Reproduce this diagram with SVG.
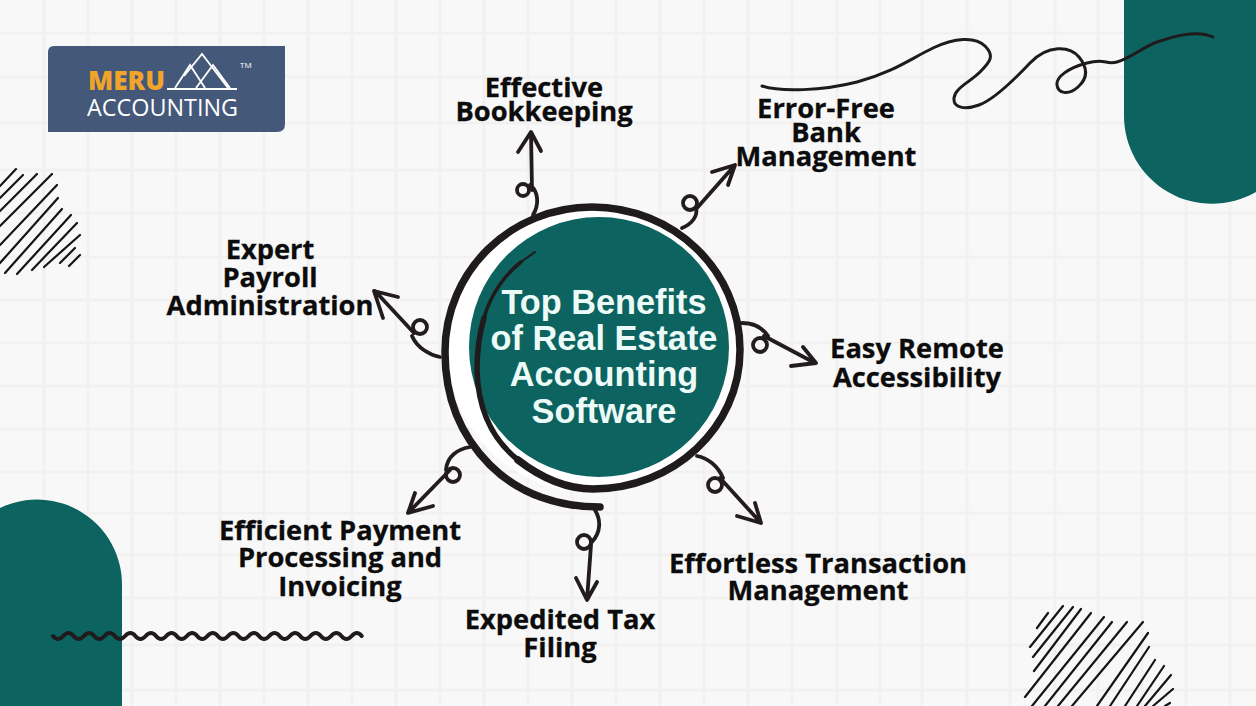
<svg xmlns="http://www.w3.org/2000/svg" width="1256" height="706" viewBox="0 0 1256 706">
<style>
.grid{fill:none;stroke:#f2f1f1;stroke-width:3}
.teal{fill:#0d6360}
.ink{fill:none;stroke:#1f1a1b;stroke-linecap:round;stroke-linejoin:round}
.hatch{fill:none;stroke:#151515;stroke-width:2.2;stroke-linecap:round}
.conn{fill:none;stroke:#231c1e;stroke-width:3.800;stroke-linecap:round;stroke-linejoin:round}
.label{font-family:"Open Sans","Noto Sans",sans-serif;font-weight:700;font-size:27.300px;fill:#0c0c0c;stroke:#0c0c0c;stroke-width:.3;text-anchor:middle}
.title{font-family:"Liberation Sans",Arial,sans-serif;font-weight:700;font-size:34.300px;fill:#ecfbf8;text-anchor:middle}
</style>
<rect width="1256" height="706" fill="#f8f8f8"/>
<path class="grid" d="M44 0V706M88 0V706M132 0V706M176 0V706M220 0V706M264 0V706M308 0V706M352 0V706M396 0V706M440 0V706M484 0V706M528 0V706M572 0V706M616 0V706M660 0V706M704 0V706M748 0V706M792 0V706M837 0V706M880 0V706M922 0V706M967 0V706M1010 0V706M1055 0V706M1098 0V706M1142 0V706M1186 0V706M1230 0V706M0 33H1256M0 77H1256M0 123H1256M0 170H1256M0 213H1256M0 257H1256M0 300H1256M0 343H1256M0 386H1256M0 429H1256M0 472H1256M0 513H1256M0 555H1256M0 598H1256M0 645H1256M0 690H1256"/>
<path class="teal" d="M1124 0V116A88 88 0 0 0 1256 192V0Z"/>
<path class="teal" d="M0 706V508A85 85 0 0 1 122 585V706Z"/>
<path class="ink" stroke-width="3" d="M762 86C780 92 822 91 857 82S912 58 933 48S975 36 985 46S990 62 980 72S955 88 954 98S965 110 979 105S1012 82 1030 63S1070 46 1079 57S1088 78 1078 87S1058 93 1057 85S1068 68 1087 63S1105 65 1117 62S1145 46 1157 42S1195 29 1213 37"/>
<path class="ink" stroke-width="4" d="M53 636q5 6 10.300 0t10.300 0t10.300 0t10.300 0t10.300 0t10.300 0t10.300 0t10.300 0t10.300 0t10.300 0t10.300 0t10.300 0t10.300 0t10.300 0t10.300 0t10.300 0t10.300 0t10.300 0t10.300 0t10.300 0t10.300 0t10.300 0t10.300 0t10.300 0t10.300 0t10.300 0t10.300 0t10.300 0t10.300 0t10 0"/>
<path class="hatch" d="M0 186L16 169M0 198L23 175M0 211L37 174M0 226L52 174M0 245L57 185M0 263L58 198M5 273L62 209M17 274L71 215M32 270L77 223M44 267L80 235M60 263L75 248M69 266L80 255"/>
<path class="hatch" d="M1037 628L1048 613M1030 647L1063 606M1033 657L1073 607M1034 671L1081 609M1025 697L1091 613M1032 706L1104 617M1045 706L1112 622M1058 706L1127 622M1072 706L1143 622M1097 706L1148 633M1110 706L1149 647M1125 706L1155 660M1137 706L1164 666M1145 706L1171 675M1153 706L1173 689M1165 706L1170 703"/>
<g id="logo">
<path d="M54 46H285V124Q285 132 277 132H48V52Q48 46 54 46Z" fill="#44597a"/>
<text x="88" y="90" font-family="'Open Sans',sans-serif" font-weight="800" font-size="26" fill="#f0a52a" textLength="77" lengthAdjust="spacingAndGlyphs">MERU</text>
<text x="87" y="116" font-family="'Open Sans',sans-serif" font-weight="400" font-size="23" fill="#ffffff" textLength="151" lengthAdjust="spacingAndGlyphs">ACCOUNTING</text>
<text x="240" y="68" font-family="'Open Sans',sans-serif" font-size="8" fill="#ffffff">TM</text>
<path d="M167 89H237M175 88L190 65L205 88M184 76L202 54L228 88M196 88L213 65L230 88" fill="none" stroke="#fff" stroke-width="1.800"/>
</g>
<g id="connectors">
<path class="conn" d="M533 215C539 205 539 192 530 185M532 190L531 133M518 152L531 132L541 151"/><circle class="conn" cx="523" cy="190" r="6"/>
<path class="conn" d="M682 228C692 224 698 216 696 208M697 208L735 165M712 172L735 165L728 185"/><circle class="conn" cx="690" cy="203" r="7"/>
<path class="conn" d="M742 323C752 323 762 327 768 336M764 336L815 363M803 347L816 363L791 366"/><circle class="conn" cx="760" cy="345" r="7"/>
<path class="conn" d="M697 456C708 458 718 466 723 478M720 478L761 523M755 503L761 523L737 516"/><circle class="conn" cx="715" cy="485" r="7"/>
<path class="conn" d="M595 510C601 520 601 532 592 542M591 545L587 600M576 578L587 600L597 582"/><circle class="conn" cx="584" cy="542" r="7"/>
<path class="conn" d="M470 447C458 449 447 456 446 470M450 470L408 513M415 493L408 513L433 506"/><circle class="conn" cx="453" cy="475" r="7"/>
<path class="conn" d="M440 357C430 355 417 348 412 336M414 333L375 291M398 297L374 291L383 318"/><circle class="conn" cx="420" cy="327" r="7"/>
</g>
<g id="center">
<circle cx="592" cy="348" r="145" fill="#ffffff"/>
<circle class="teal" cx="599" cy="347" r="130"/>
<path class="ink" stroke-width="7.500" d="M600 507C560 507 520 495 490 465C458 433 445 395 445 352C445 270 512 207 592 207C673 207 740 270 740 350C740 428 673 489 593 489C565 489 540 477 518 460"/>
<path class="ink" stroke-width="5.500" d="M518 460C493 440 478 410 477 370C477 350 479 335 484 318"/>
<path class="ink" stroke-width="3.500" d="M484 318C491 292 508 272 521 262"/>
<path class="ink" stroke-width="2" d="M521 262L535 252"/>
<text class="title" x="604" y="314">Top Benefits</text>
<text class="title" x="604" y="350">of Real Estate</text>
<text class="title" x="604" y="386">Accounting</text>
<text class="title" x="604" y="423">Software</text>
</g>
<g id="node-bookkeeping"><text class="label" x="544" y="97">Effective</text><text class="label" x="544" y="121">Bookkeeping</text></g>
<g id="node-bank"><text class="label" x="826" y="118">Error-Free</text><text class="label" x="826" y="142">Bank</text><text class="label" x="826" y="166">Management</text></g>
<g id="node-remote"><text class="label" x="917" y="358">Easy Remote</text><text class="label" x="917" y="387">Accessibility</text></g>
<g id="node-transaction"><text class="label" x="818" y="573">Effortless Transaction</text><text class="label" x="818" y="600">Management</text></g>
<g id="node-tax"><text class="label" x="560" y="629">Expedited Tax</text><text class="label" x="560" y="657">Filing</text></g>
<g id="node-payment"><text class="label" x="340" y="540">Efficient Payment</text><text class="label" x="340" y="567">Processing and</text><text class="label" x="340" y="596">Invoicing</text></g>
<g id="node-payroll"><text class="label" x="270" y="259">Expert</text><text class="label" x="270" y="287">Payroll</text><text class="label" x="270" y="315">Administration</text></g>
</svg>
